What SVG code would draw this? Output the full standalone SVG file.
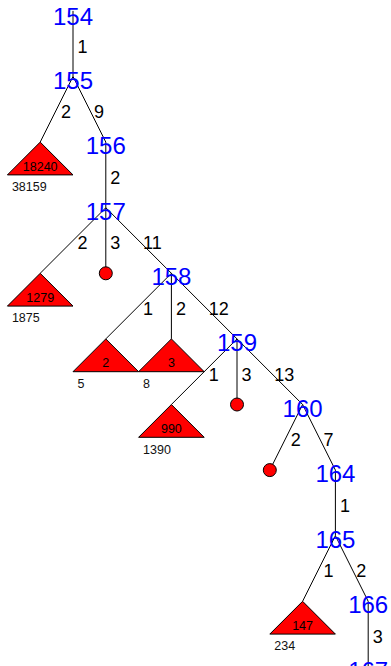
<svg xmlns="http://www.w3.org/2000/svg" width="391" height="666" viewBox="0 0 391 666">
<style>
.e{stroke:#000;stroke-width:1;fill:none}
.t{fill:#f00;stroke:#000;stroke-width:1}
.c{fill:#f00;stroke:#000;stroke-width:1}
.nl{font-family:"Liberation Sans",Arial,sans-serif;font-size:24px;fill:#00f;text-anchor:middle}
.el{font-family:"Liberation Sans",Arial,sans-serif;font-size:18px;fill:#000}
.ti{font-family:"Liberation Sans",Arial,sans-serif;font-size:12.5px;fill:#000;text-anchor:middle}
.tb{font-family:"Liberation Sans",Arial,sans-serif;font-size:12.5px;fill:#111}
</style>
<rect width="391" height="666" fill="#fff"/>
<g id="connectors">
<line class="e" x1="73" y1="10.9" x2="73" y2="76.5"/>
<line class="e" x1="73" y1="76.5" x2="40.2" y2="142.1"/>
<line class="e" x1="73" y1="76.5" x2="105.8" y2="142.1"/>
<line class="e" x1="105.8" y1="142.1" x2="105.8" y2="207.7"/>
<line class="e" x1="105.8" y1="207.7" x2="40.2" y2="273.3"/>
<line class="e" x1="105.8" y1="207.7" x2="105.8" y2="273.3"/>
<line class="e" x1="105.8" y1="207.7" x2="171.4" y2="273.3"/>
<line class="e" x1="171.4" y1="273.3" x2="105.8" y2="338.9"/>
<line class="e" x1="171.4" y1="273.3" x2="171.4" y2="338.9"/>
<line class="e" x1="171.4" y1="273.3" x2="237" y2="338.9"/>
<line class="e" x1="237" y1="338.9" x2="171.4" y2="404.5"/>
<line class="e" x1="237" y1="338.9" x2="237" y2="404.5"/>
<line class="e" x1="237" y1="338.9" x2="302.6" y2="404.5"/>
<line class="e" x1="302.6" y1="404.5" x2="269.8" y2="470.1"/>
<line class="e" x1="302.6" y1="404.5" x2="335.4" y2="470.1"/>
<line class="e" x1="335.4" y1="470.1" x2="335.4" y2="535.7"/>
<line class="e" x1="335.4" y1="535.7" x2="302.6" y2="601.3"/>
<line class="e" x1="335.4" y1="535.7" x2="368.2" y2="601.3"/>
<line class="e" x1="368.2" y1="601.3" x2="368.2" y2="666.9"/>
<text class="el" x="77.5" y="52.5">1</text>
<text class="el" x="61.1" y="118.1">2</text>
<text class="el" x="93.9" y="118.1">9</text>
<text class="el" x="110.3" y="183.7">2</text>
<text class="el" x="77.5" y="249.3">2</text>
<text class="el" x="110.3" y="249.3">3</text>
<text class="el" x="143.1" y="249.3">11</text>
<text class="el" x="143.1" y="314.9">1</text>
<text class="el" x="175.9" y="314.9">2</text>
<text class="el" x="208.7" y="314.9">12</text>
<text class="el" x="208.7" y="380.5">1</text>
<text class="el" x="241.5" y="380.5">3</text>
<text class="el" x="274.3" y="380.5">13</text>
<text class="el" x="290.7" y="446.1">2</text>
<text class="el" x="323.5" y="446.1">7</text>
<text class="el" x="339.9" y="511.7">1</text>
<text class="el" x="323.5" y="577.3">1</text>
<text class="el" x="356.3" y="577.3">2</text>
<text class="el" x="372.7" y="642.9">3</text>
</g>
<g id="t18240"><polygon class="t" points="40.2,142.1 7.4,174.9 73,174.9"/><text class="ti" x="40.2" y="170.6">18240</text><text class="tb" x="11.9" y="191.1">38159</text></g>
<g id="t1279"><polygon class="t" points="40.2,273.3 7.4,306.1 73,306.1"/><text class="ti" x="40.2" y="301.8">1279</text><text class="tb" x="11.9" y="322.3">1875</text></g>
<g id="t2"><polygon class="t" points="105.8,338.9 73,371.7 138.6,371.7"/><text class="ti" x="105.8" y="367.4">2</text><text class="tb" x="77.5" y="387.9">5</text></g>
<g id="t3"><polygon class="t" points="171.4,338.9 138.6,371.7 204.2,371.7"/><text class="ti" x="171.4" y="367.4">3</text><text class="tb" x="143.1" y="387.9">8</text></g>
<g id="t990"><polygon class="t" points="171.4,404.5 138.6,437.3 204.2,437.3"/><text class="ti" x="171.4" y="433">990</text><text class="tb" x="143.1" y="453.5">1390</text></g>
<g id="t147"><polygon class="t" points="302.6,601.3 269.8,634.1 335.4,634.1"/><text class="ti" x="302.6" y="629.8">147</text><text class="tb" x="274.3" y="650.3">234</text></g>
<g id="c1"><circle class="c" cx="105.8" cy="273.3" r="6.5"/></g>
<g id="c2"><circle class="c" cx="237" cy="404.5" r="6.5"/></g>
<g id="c3"><circle class="c" cx="269.8" cy="470.1" r="6.5"/></g>
<g id="n154"><text class="nl" x="73" y="24.5">154</text></g>
<g id="n155"><text class="nl" x="73" y="88.5">155</text></g>
<g id="n156"><text class="nl" x="105.8" y="154.1">156</text></g>
<g id="n157"><text class="nl" x="105.8" y="219.7">157</text></g>
<g id="n158"><text class="nl" x="171.4" y="285.3">158</text></g>
<g id="n159"><text class="nl" x="237" y="350.9">159</text></g>
<g id="n160"><text class="nl" x="302.6" y="416.5">160</text></g>
<g id="n164"><text class="nl" x="335.4" y="482.1">164</text></g>
<g id="n165"><text class="nl" x="335.4" y="547.7">165</text></g>
<g id="n166"><text class="nl" x="368.2" y="613.3">166</text></g>
<g id="n167"><text class="nl" x="368.2" y="678.9">167</text></g>
</svg>
